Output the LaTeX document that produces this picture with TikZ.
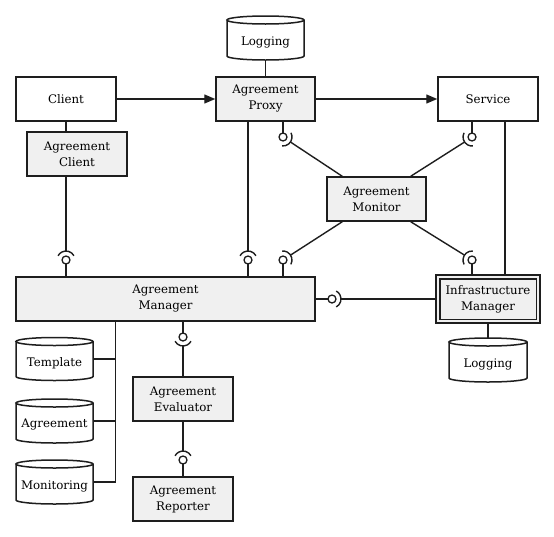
\documentclass[tikz,border=0pt]{standalone}
\usepackage{fontspec}
\setmainfont{DejaVu Serif}
\usetikzlibrary{arrows.meta}
\definecolor{boxgray}{RGB}{240,240,240}
\definecolor{ink}{RGB}{30,30,30}
\tikzset{
  base/.style={draw=ink, line width=1.5pt, minimum height=44pt, align=center, inner sep=2pt,
    font=\fontsize{11.8pt}{16pt}\selectfont, text=black},
  wbox/.style={base, fill=white, minimum width=100pt},
  gbox/.style={base, fill=boxgray, minimum width=100pt},
  cyltext/.style={inner sep=0pt, font=\fontsize{11.8pt}{16pt}\selectfont, text=black},
  cylline/.style={draw=ink, line width=1.5pt, fill=white},
  conn/.style={draw=ink, line width=1.4pt},
  arr/.style={conn, -{Triangle[length=11pt,width=9pt]}},
  ball/.style={circle, draw=ink, line width=1.3pt, fill=white, minimum size=8pt, inner sep=0pt},
}
% \cylnode{name}{cx}{cy}{half width}{half height}{text}
\newcommand{\cylnode}[6]{%
  \draw[cylline] ({#2-#4},{#3-#5+4}) -- ({#2-#4},{#3+#5-4})
    arc[start angle=180,end angle=360,x radius=#4pt,y radius=4pt]
    -- ({#2+#4},{#3-#5+4})
    arc[start angle=0,end angle=180,x radius=#4pt,y radius=4pt]
    arc[start angle=180,end angle=360,x radius=#4pt,y radius=4pt];
  \node[cyltext, minimum width={2*#4*1pt}, minimum height={(2*#5-8)*1pt}] (#1) at (#2,{#3+4}) {#6};
}
% \socketarc{coord}{angle}
\newcommand{\socketarc}[2]{%
  \draw[conn] ([shift={(#2-62:9pt)}]#1) arc[start angle=#2-62,end angle=#2+62,radius=9pt];
}
\begin{document}
\begin{tikzpicture}[x=1pt,y=-1pt]
\useasboundingbox (0,0) rectangle (554,536);

% boxes
\node[wbox] (client) at (66,99) {Client};
\node[gbox, minimum width=99pt] (proxy) at (265.5,99) {Agreement\\Proxy};
\node[wbox] (service) at (488,99) {Service};
\node[gbox] (aclient) at (77,154) {Agreement\\Client};
\node[gbox, minimum width=99pt] (monitor) at (376.5,199) {Agreement\\Monitor};
\node[gbox, minimum width=299pt] (manager) at (165.5,299) {Agreement\\Manager};
\node[gbox, minimum width=104pt, minimum height=48pt] (infra) at (488,299) {Infrastructure\\Manager};
\draw[draw=ink, line width=1.5pt] ([shift={(4.5pt,-4.5pt)}]infra.north west) rectangle ([shift={(-4.5pt,4.5pt)}]infra.south east);
\node[gbox] (evaluator) at (183,399) {Agreement\\Evaluator};
\node[gbox] (reporter) at (183,499) {Agreement\\Reporter};

% storages
\cylnode{logtop}{265.5}{38}{38.5}{22}{Logging}
\cylnode{logbot}{488}{360}{39}{22}{Logging}
\cylnode{template}{54.5}{359}{38.5}{21.5}{Template}
\cylnode{agreement}{54.5}{421}{38.5}{22}{Agreement}
\cylnode{monitoring}{54.5}{482}{38.5}{22}{Monitoring}

% main flow
\draw[arr] (client) -- (proxy);
\draw[arr] (proxy) -- (service);
\draw[conn] (logtop.south) -- (proxy.north);
\draw[conn] (client.south) -- (client.south |- aclient.north);
\draw[conn] ([xshift=17pt]service.south) -- ([xshift=17pt]service.south |- infra.north);
\draw[conn] (infra.south) -- ([yshift=8pt]logbot.north);

% storage tree
\coordinate (trunk) at ([xshift=100pt]manager.south west);
\draw[conn] (trunk) |- ([yshift=4pt]monitoring.east);
\draw[conn] ([yshift=4pt]template.east) -- ([yshift=4pt]template.east -| trunk);
\draw[conn] ([yshift=4pt]agreement.east) -- ([yshift=4pt]agreement.east -| trunk);

% interface points
\coordinate (p1) at (66,260);
\coordinate (p2) at (248,260);
\coordinate (p3) at (283,137);
\coordinate (p4) at (472,137);
\coordinate (p5) at (283,260);
\coordinate (p6) at (472,260);
\coordinate (p7) at (332,299);
\coordinate (p8) at (183,337);
\coordinate (p9) at (183,460);

% sockets (required) with their lines
\socketarc{p1}{90}
\draw[conn] (p1 |- aclient.south) -- ([shift={(90:9pt)}]p1);
\socketarc{p2}{90}
\draw[conn] (p2 |- proxy.south) -- ([shift={(90:9pt)}]p2);
\socketarc{p3}{-34}
\draw[conn] ([shift={(-34:9pt)}]p3) -- ([xshift=16pt]monitor.north west);
\socketarc{p4}{-146}
\draw[conn] ([shift={(-146:9pt)}]p4) -- ([xshift=-16pt]monitor.north east);
\socketarc{p5}{33}
\draw[conn] ([shift={(33:9pt)}]p5) -- ([xshift=16pt]monitor.south west);
\socketarc{p6}{147}
\draw[conn] ([shift={(147:9pt)}]p6) -- ([xshift=-16pt]monitor.south east);
\socketarc{p7}{0}
\draw[conn] ([shift={(0:9pt)}]p7) -- (infra.west);
\socketarc{p8}{-90}
\draw[conn] ([shift={(-90:9pt)}]p8) -- (evaluator.north);
\socketarc{p9}{90}
\draw[conn] (evaluator.south) -- ([shift={(90:9pt)}]p9);

% balls (provided) with their lines
\draw[conn] (p1 |- manager.north) -- (p1);
\node[ball] (ball1) at (p1) {};
\draw[conn] (p2 |- manager.north) -- (p2);
\node[ball] (ball2) at (p2) {};
\draw[conn] (p3 |- proxy.south) -- (p3);
\node[ball] (ball3) at (p3) {};
\draw[conn] (p4 |- service.south) -- (p4);
\node[ball] (ball4) at (p4) {};
\draw[conn] (p5 |- manager.north) -- (p5);
\node[ball] (ball5) at (p5) {};
\draw[conn] (p6 |- infra.north) -- (p6);
\node[ball] (ball6) at (p6) {};
\draw[conn] (p7 -| manager.east) -- (p7);
\node[ball] (ball7) at (p7) {};
\draw[conn] (p8 |- manager.south) -- (p8);
\node[ball] (ball8) at (p8) {};
\draw[conn] (p9 |- reporter.north) -- (p9);
\node[ball] (ball9) at (p9) {};
\end{tikzpicture}
\end{document}
